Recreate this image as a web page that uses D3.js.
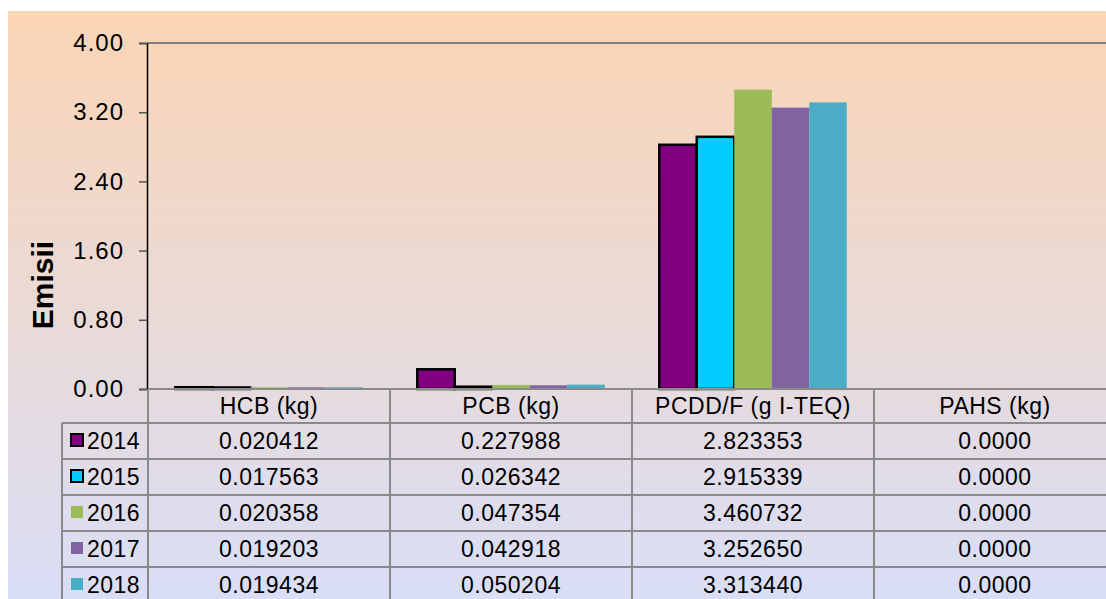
<!DOCTYPE html>
<html><head><meta charset="utf-8">
<script src="https://cdn.jsdelivr.net/npm/d3@7"></script>
<style>html,body{margin:0;padding:0;background:#fff}svg{display:block}text{font-family:"Liberation Sans",Arial,sans-serif}</style>
</head><body>
<svg id="c" width="1106" height="599"></svg>
<script>
const categories = ["HCB (kg)", "PCB (kg)", "PCDD/F (g I-TEQ)", "PAHS (kg)"];
const years = ["2014", "2015", "2016", "2017", "2018"];
const v2014 = [0.020412, 0.227988, 2.823353, 0.0000];
const v2015 = [0.017563, 0.026342, 2.915339, 0.0000];
const v2016 = [0.020358, 0.047354, 3.460732, 0.0000];
const v2017 = [0.019203, 0.042918, 3.252650, 0.0000];
const v2018 = [0.019434, 0.050204, 3.313440, 0.0000];
const labels2014 = ["0.020412", "0.227988", "2.823353", "0.0000"];
const labels2015 = ["0.017563", "0.026342", "2.915339", "0.0000"];
const labels2016 = ["0.020358", "0.047354", "3.460732", "0.0000"];
const labels2017 = ["0.019203", "0.042918", "3.252650", "0.0000"];
const labels2018 = ["0.019434", "0.050204", "3.313440", "0.0000"];
const yTicks = [0, 0.8, 1.6, 2.4, 3.2, 4.0];
const colors = ["#800080", "#00CCFF", "#9BBB59", "#8064A2", "#4BACC6"];
const outlined = [true, true, false, false, false];
const yTitle = "Emisii";

const series = [v2014, v2015, v2016, v2017, v2018];
const labels = [labels2014, labels2015, labels2016, labels2017, labels2018];

(function(){
const svg = d3.select("#c");
const defs = svg.append("defs");
const grad = defs.append("linearGradient").attr("id","bg").attr("x1",0).attr("y1",0).attr("x2",0).attr("y2",1);
grad.append("stop").attr("offset","0%").attr("stop-color","#FBD5B5");
grad.append("stop").attr("offset","100%").attr("stop-color","#D9DEF6");
svg.append("rect").attr("x",8).attr("y",11).attr("width",1098).attr("height",588).attr("fill","url(#bg)");

const pLeft = 148, colW = 242, pTop = 43, pBottom = 389;
const x = d3.scaleBand().domain(categories).range([pLeft, pLeft + colW*categories.length]).paddingInner(0).paddingOuter(0);
const xi = d3.scaleBand().domain(years).range([0, x.bandwidth()]).paddingInner(0).paddingOuter(0.727);
const y = d3.scaleLinear().domain([0, 4]).range([pBottom, pTop]);

const font = 23;
const ls = "0.5px";

svg.append("line").attr("x1",pLeft).attr("x2",1106).attr("y1",y(4)).attr("y2",y(4)).attr("stroke","#808080").attr("stroke-width",2);

years.forEach((yr, i) => {
  const g = svg.append("g");
  g.selectAll("rect").data(categories.map((c,j)=>({c, v: series[i][j]}))).enter().append("rect")
    .attr("x", d => x(d.c) + xi(yr))
    .attr("y", d => y(d.v))
    .attr("width", xi.bandwidth())
    .attr("height", d => Math.max(0, y(0) - y(d.v)))
    .attr("fill", colors[i])
    .attr("stroke", outlined[i] ? "#000" : "none")
    .attr("stroke-width", outlined[i] ? 2.5 : 0);
});

const yAxis = d3.axisLeft(y).tickValues(yTicks).tickFormat(d3.format(".2f")).tickSize(8).tickPadding(15);
const ga = svg.append("g").attr("transform", `translate(${pLeft-1},0)`).call(yAxis);
ga.select(".domain").attr("stroke","#000").attr("stroke-width",1.5);
ga.selectAll(".tick line").attr("stroke","#555").attr("stroke-width",1.5);
ga.selectAll(".tick text").attr("font-size", 24).attr("fill","#000").style("letter-spacing","1px").style("font-family",'"Liberation Sans",Arial,sans-serif');

svg.append("text").attr("transform","translate(53,285) rotate(-90)").attr("text-anchor","middle")
  .attr("font-size",30).attr("font-weight","bold").attr("fill","#000").text(yTitle);

const rowTops = [389, 423, 459, 495, 531, 567, 603];
const legendLeft = 62;
const lineColor = "#8a8a8a";
const tbl = svg.append("g");
tbl.append("line").attr("x1",pLeft).attr("x2",1106).attr("y1",rowTops[0]).attr("y2",rowTops[0]).attr("stroke",lineColor).attr("stroke-width",2);
for (let r = 1; r < rowTops.length - 1; r++) {
  tbl.append("line").attr("x1",legendLeft).attr("x2",1106).attr("y1",rowTops[r]).attr("y2",rowTops[r]).attr("stroke",lineColor).attr("stroke-width",2);
}
tbl.append("line").attr("x1",legendLeft).attr("x2",legendLeft).attr("y1",rowTops[1]).attr("y2",599).attr("stroke",lineColor).attr("stroke-width",2);
categories.forEach(c => {
  tbl.append("line").attr("x1",x(c)).attr("x2",x(c)).attr("y1",rowTops[0]).attr("y2",599).attr("stroke",lineColor).attr("stroke-width",2);
});
categories.forEach(c => {
  tbl.append("text").attr("x", x(c) + x.bandwidth()/2).attr("y", (rowTops[0]+rowTops[1])/2 + 8)
    .attr("text-anchor","middle").attr("font-size",font).style("letter-spacing",ls).attr("fill","#000").text(c);
});
years.forEach((yr, i) => {
  const cy = (rowTops[i+1] + rowTops[i+2]) / 2;
  tbl.append("rect").attr("x",71).attr("y",cy-7).attr("width",12).attr("height",12)
    .attr("fill",colors[i]).attr("stroke",outlined[i] ? "#000" : "none").attr("stroke-width",outlined[i]?2:0);
  tbl.append("text").attr("x",87).attr("y",cy+8).attr("font-size",font).style("letter-spacing",ls).attr("fill","#000").text(yr);
  categories.forEach((c, j) => {
    tbl.append("text").attr("x", x(c) + x.bandwidth()/2).attr("y", cy + 8)
      .attr("text-anchor","middle").attr("font-size",font).style("letter-spacing",ls).attr("fill","#000").text(labels[i][j]);
  });
});
})();
</script>
</body></html>
